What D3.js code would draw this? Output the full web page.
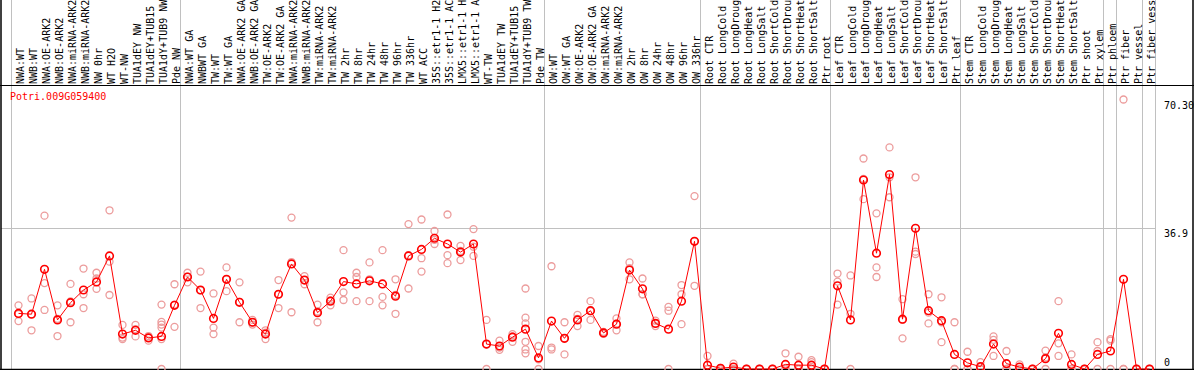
<!DOCTYPE html>
<meta charset="utf-8">
<style>
  body { margin: 0; background: #fff; }
  svg { display: block; font-family: "DejaVu Sans Mono", monospace; font-size: 10px; }
</style>
<svg width="1194" height="370"></svg>
<script src="https://d3js.org/d3.v7.min.js"></script>
<script>

var gene = "Potri.009G059400";

var samples = [
  "NWA:WT", "NWB:WT", "NWA:OE-ARK2", "NWB:OE-ARK2", "NWA:miRNA-ARK2", "NWB:miRNA-ARK2",
  "NW 0hr", "WT H2O", "WT-NW", "TUA1dEY NW", "TUA1dEY+TUB15", "TUA1dY+TUB9 NW", "Pde NW",
  "NWA:WT GA", "NWBWT GA", "TW:WT", "TW:WT GA", "NWA:OE-ARK2 GA", "NWB:OE-ARK2 GA",
  "TW:OE-ARK2", "TW:OE-ARK2 GA", "NWA:miRNA-ARK2 GA", "NWB:miRNA-ARK2 GA", "TW:miRNA-ARK2",
  "TW:miRNA-ARK2 GA", "TW 2hr", "TW 8hr", "TW 24hr", "TW 48hr", "TW 96hr", "TW 336hr",
  "WT ACC", "35S::etr1-1 H2O", "35S::etr1-1 ACC", "LMX5::etr1-1 H2O", "LMX5::etr1-1 ACC",
  "WT-TW", "TUA1dEY TW", "TUA1dEY+TUB15", "TUA1dY+TUB9 TW", "Pde TW",
  "OW:WT", "OW:WT GA", "OW:OE-ARK2", "OW:OE-ARK2 GA", "OW:miRNA-ARK2", "OW:miRNA-ARK2 GA",
  "OW 2hr", "OW 8hr", "OW 24hr", "OW 48hr", "OW 96hr", "OW 336hr",
  "Root CTR", "Root LongCold", "Root LongDrought", "Root LongHeat", "Root LongSalt",
  "Root ShortCold", "Root ShortDrought", "Root ShortHeat", "Root ShortSalt", "Ptr root",
  "Leaf CTR", "Leaf LongCold", "Leaf LongDrought", "Leaf LongHeat", "Leaf LongSalt",
  "Leaf ShortCold", "Leaf ShortDrought", "Leaf ShortHeat", "Leaf ShortSalt", "Ptr leaf",
  "Stem CTR", "Stem LongCold", "Stem LongDrought", "Stem LongHeat", "Stem LongSalt",
  "Stem ShortCold", "Stem ShortDrought", "Stem ShortHeat", "Stem ShortSalt", "Ptr shoot",
  "Ptr xylem", "Ptr phloem", "Ptr fiber", "Ptr vessel", "Ptr fiber vessel"
];

// mean expression per sample
var means = [
  14.5, 14.3, 26.0, 12.8, 17.3, 20.6, 22.7, 29.5, 9.1, 10.1, 8.1, 8.5, 16.6,
  24.0, 20.6, 13.2, 23.4, 17.4, 12.2, 9.1, 19.5, 27.4, 23.2, 14.7, 17.7,
  22.8, 22.2, 23.0, 22.2, 19.0, 29.5, 31.2, 34.1, 32.6, 30.5, 32.6,
  6.5, 6.0, 8.3, 10.4, 2.9,
  12.5, 8.0, 12.8, 15.2, 9.4, 11.7, 25.8, 20.9, 11.9, 10.4, 17.7, 33.3,
  1.0, 0.2, 0.5, 0, 0, 0, 1.2, 1.0, 1.0, 0,
  21.7, 12.8, 49.3, 30.2, 50.7, 13.0, 36.7, 15.2, 12.6, 3.8,
  1.6, 0.6, 6.5, 1.4, 0.5, 0, 2.7, 9.3, 1.2, 0,
  3.8, 4.7, 23.4, 0, 0
];

// replicate values per sample
var reps = [
  [16.6, 12.5, 14.3], [18.4, 10.1, 14.3], [40.0, 22.4, 15.4], [16.6, 8.6, 13.1],
  [22.2, 12.2, 17.6], [26.2, 19.5, 15.9], [25.1, 23.6, 20.9], [41.4, 28.0, 19.3],
  [11.5, 7.8, 8.2], [11.5, 8.5, 10.4], [8.6, 7.4, 8.2], [16.8, 12.3, 11.6, 10.8, 7.8, 0],
  [22.1, 11.0, 16.8],
  [25.1, 22.6, 24.1], [25.4, 15.9, 20.5], [19.7, 10.8, 9.1], [26.5, 20.3, 23.4],
  [22.6, 12.2, 17.5], [12.8, 11.6, 12.2], [10.1, 7.8, 9.5], [23.2, 15.9, 19.5],
  [39.5, 14.8, 27.9], [24.2, 22.1, 23.2], [16.8, 12.2, 15.0], [18.6, 16.6, 17.9],
  [31.0, 20.0, 18.0], [25.1, 24.0, 17.7], [27.8, 23.4, 17.7], [31.0, 18.8, 16.6],
  [23.4, 14.4, 19.3], [37.8, 21.0, 29.7], [39.0, 28.9, 25.4], [36.0, 32.6, 33.7],
  [40.3, 29.7, 27.6], [32.1, 28.4, 30.8], [36.5, 29.5, 31.9],
  [12.8, 0, 6.4], [7.4, 5.0, 5.6], [9.1, 7.1, 8.5], [21.0, 13.4, 11.9, 7.1, 5.1, 4.1],
  [6.0, 0, 2.5],
  [26.8, 5.6, 5.1], [12.2, 3.8, 7.9], [14.1, 11.2, 13.1], [17.7, 12.8, 15.1],
  [9.7, 9.2, 9.4], [13.2, 10.1, 11.8], [27.8, 23.4, 26.3], [23.6, 19.5, 19.5],
  [12.6, 11.2, 11.9], [16.2, 15.2, 0], [21.9, 19.5, 11.7], [45.1, 21.7, 33.3],
  [3.4, 0, 0], [0.3, 0, 0], [1.4, 0, 0], [0, 0, 0], [0, 0, 0], [0, 0, 0],
  [4.1, 0, 0], [3.2, 0, 0], [2.3, 1.8, 0], [0, 0, 0],
  [24.9, 22.8, 16.8], [24.4, 14.4, 0], [54.9, 49.6, 44.3], [40.6, 26.5, 24.0],
  [57.8, 50.0, 44.8], [18.2, 8.0, 12.8], [50.0, 30.6, 30.0], [19.5, 14.7, 11.9],
  [18.7, 12.2, 7.0], [12.2, 0, 0],
  [4.5, 0, 0], [1.8, 0, 0], [8.5, 7.6, 3.4], [4.7, 0, 0], [1.2, 0, 0], [0, 0, 0],
  [4.8, 0, 3.0], [17.7, 6.7, 3.4], [3.8, 0, 0], [0, 0, 0],
  [7.0, 4.7, 0], [7.8, 7.4, 0], [70.3, 0, 0], [0, 0, 0], [0, 0, 0]
];

// group boundaries (sample index where a gray divider sits)
var groupBreaks = [0, 13, 41, 53, 63, 73, 84, 85, 87, 88];

var yMax = 70.3;
var yTicks = [0, 36.9, 70.3];
var yTickText = ["0", "36.9", "70.30"];

var svg = d3.select("svg"),
    W = +svg.attr("width"),
    H = +svg.attr("height");

var plotTop = 86, plotBottom = 369, plotLeft = 12, plotRight = 1156;

var x = d3.scaleBand()
    .domain(d3.range(samples.length))
    .range([plotLeft, plotRight]);

var y = d3.scaleLinear()
    .domain([0, yMax * 1.05])
    .range([plotBottom, plotTop]);

var cx = function(i) { return x(i) + x.bandwidth() / 2; };

// vertical gray dividers
svg.selectAll(".sep")
  .data(groupBreaks).enter()
  .append("line")
    .attr("x1", function(k) { return Math.round(plotLeft + k * x.step()) - 0.5; })
    .attr("x2", function(k) { return Math.round(plotLeft + k * x.step()) - 0.5; })
    .attr("y1", 0).attr("y2", plotBottom)
    .style("stroke", "#c0c0c0");

// mid gridline
svg.append("line")
    .attr("x1", 1).attr("x2", plotRight)
    .attr("y1", Math.round(y(36.9)) + 0.5).attr("y2", Math.round(y(36.9)) + 0.5)
    .style("stroke", "#c0c0c0");

// frame
svg.append("line").attr("x1", 0).attr("x2", W).attr("y1", plotTop - 0.5).attr("y2", plotTop - 0.5)
    .style("stroke", "#000");
svg.append("line").attr("x1", 0).attr("x2", W).attr("y1", plotBottom + 0.5).attr("y2", plotBottom + 0.5)
    .style("stroke", "#000").style("stroke-width", 1.5);
svg.append("line").attr("x1", 1).attr("x2", 1).attr("y1", 0).attr("y2", H)
    .style("stroke", "#000").style("stroke-width", 1.5);
svg.append("line").attr("x1", W - 1).attr("x2", W - 1).attr("y1", 0).attr("y2", H)
    .style("stroke", "#000").style("stroke-width", 1.5);

// sample labels, rotated
svg.selectAll(".lab")
  .data(samples).enter()
  .append("text")
    .attr("class", "lab")
    .attr("transform", function(d, i) { return "translate(" + (cx(i) + 5) + "," + (plotTop - 2) + ") rotate(-90)"; })
    .attr("text-anchor", "start")
    .style("fill", "#000")
    .text(function(d) { return d; });

// y labels on the right
svg.selectAll(".ytick")
  .data(yTicks).enter()
  .append("text")
    .attr("x", 1164)
    .attr("y", function(d, i) { return i == 0 ? y(d) - 3 : y(d) + 9.5; })
    .style("fill", "#000")
    .text(function(d, i) { return yTickText[i]; });

// replicate points
var repPts = [];
reps.forEach(function(r, i) { r.forEach(function(v) { repPts.push({i: i, v: v}); }); });

svg.selectAll(".rep")
  .data(repPts).enter()
  .append("circle")
    .attr("cx", function(d) { return cx(d.i); })
    .attr("cy", function(d) { return y(d.v); })
    .attr("r", 3.5)
    .style("fill", "none")
    .style("stroke", "#ec9c9c")
    .style("stroke-width", 1.3);

// mean line
var line = d3.line()
    .x(function(d, i) { return cx(i); })
    .y(function(d) { return y(d); });

svg.append("path")
    .datum(means)
    .attr("d", line)
    .style("fill", "none")
    .style("stroke", "#ff0000")
    .style("stroke-width", 1);

svg.selectAll(".mean")
  .data(means).enter()
  .append("circle")
    .attr("cx", function(d, i) { return cx(i); })
    .attr("cy", function(d) { return y(d); })
    .attr("r", 3.8)
    .style("fill", "none")
    .style("stroke", "#ff0000")
    .style("stroke-width", 1.6);

// gene name
svg.append("text")
    .attr("x", 10)
    .attr("y", 100)
    .style("fill", "#ff0000")
    .text(gene);

</script>
